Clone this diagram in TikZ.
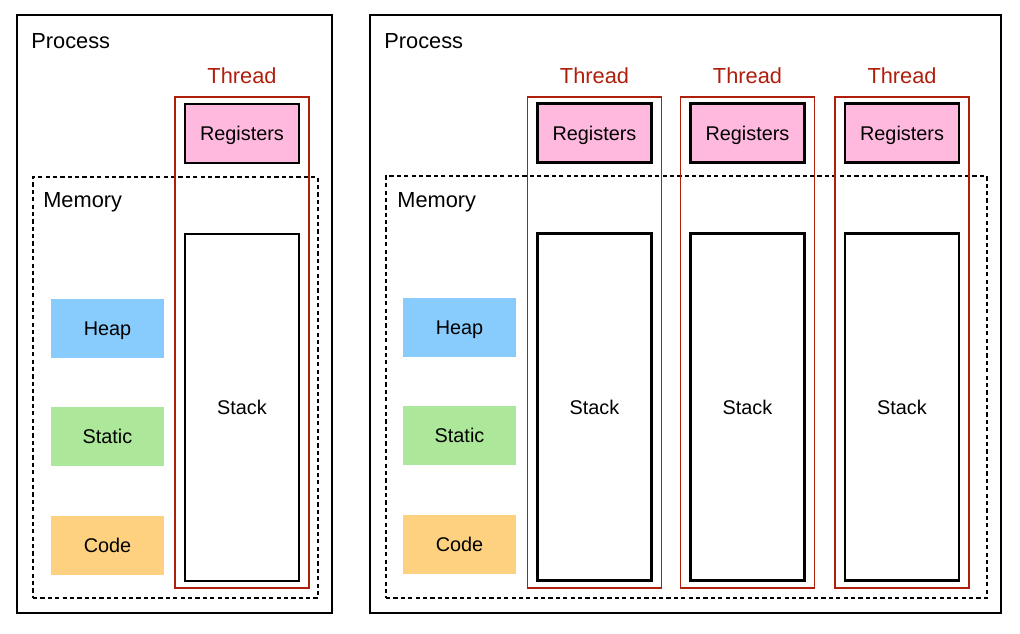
\documentclass[tikz,border=0pt]{standalone}
\usepackage{fontspec}
\setmainfont{Liberation Sans}
\usepackage{xcolor}
\usetikzlibrary{positioning}
\definecolor{ThreadRed}{HTML}{B01E0C}
\definecolor{RegPink}{HTML}{FFB9DE}
\definecolor{HeapBlue}{HTML}{88CCFD}
\definecolor{StaticGreen}{HTML}{ADE89A}
\definecolor{CodeOrange}{HTML}{FDD17F}

\begin{document}
\begin{tikzpicture}[
  x=0.02cm, y=-0.02cm,
  procbox/.style={draw, line width=1.2pt, minimum height=11.96cm},
  membox/.style={draw, line width=1pt, dash pattern=on 2.4pt off 1.8pt},
  threadbox/.style={draw=ThreadRed, line width=1.1pt, minimum width=2.68cm, minimum height=9.82cm},
  regbox/.style={draw, line width=1.2pt, fill=RegPink, minimum width=2.28cm, minimum height=1.18cm, text depth=0pt, font=\fontsize{11.3}{13}\selectfont},
  stackbox/.style={draw, line width=1.2pt, minimum width=2.28cm, minimum height=6.94cm, font=\fontsize{11.3}{13}\selectfont},
  segbox/.style={minimum width=2.26cm, minimum height=1.18cm, text depth=0pt, font=\fontsize{11.3}{13}\selectfont},
  title/.style={inner sep=0pt, font=\fontsize{12.4}{14}\selectfont},
  threadlabel/.style={title, text=ThreadRed}
  ]
  \useasboundingbox (0,0) rectangle (1020,633);
  % Single-threaded process
  \node[procbox, minimum width=6.3cm] (lproc) at (174.5,314) {};
  \node[title, anchor=west] (lproctitle) at (31,41) {Process};
  \node[membox, minimum width=5.7cm, minimum height=8.42cm] (lmem) at (175.5,387.5) {};
  \node[title, anchor=west] (lmemtitle) at (43,202.5) {Memory};
  \node[segbox, fill=HeapBlue] (lheap) at (107.5,328.5) {Heap};
  \node[segbox, fill=StaticGreen] (lstatic) at (107.5,436.5) {Static};
  \node[segbox, fill=CodeOrange] (lcode) at (107.5,545) {Code};
  \node[threadbox] (lthread) at (242,342.5) {};
  \node[threadlabel] (lthreadtitle) at (242,76) {Thread};
  \node[regbox] (lreg) at (242,133.5) {Registers};
  \node[stackbox] (lstack) at (242,407.5) {Stack};
  % Multi-threaded process
  \node[procbox, minimum width=12.62cm] (rproc) at (685.5,314) {};
  \node[title, anchor=west] (rproctitle) at (384,41) {Process};
  \node[membox, minimum width=12.02cm, minimum height=8.44cm] (rmem) at (686.5,387) {};
  \node[title, anchor=west] (rmemtitle) at (397,202.5) {Memory};
  \node[segbox, fill=HeapBlue] (rheap) at (459.5,327.5) {Heap};
  \node[segbox, fill=StaticGreen] (rstatic) at (459.5,435.5) {Static};
  \node[segbox, fill=CodeOrange] (rcode) at (459.5,544.5) {Code};
  \foreach \i/\x in {1/594.5, 2/747.5, 3/902} {
    \node[threadbox] (rthread\i) at (\x,342.5) {};
    \node[threadlabel] (rthreadtitle\i) at (\x,76) {Thread};
    \node[regbox] (rreg\i) at (\x,133) {Registers};
    \node[stackbox] (rstack\i) at (\x,407) {Stack};
  }
\end{tikzpicture}
\end{document}
